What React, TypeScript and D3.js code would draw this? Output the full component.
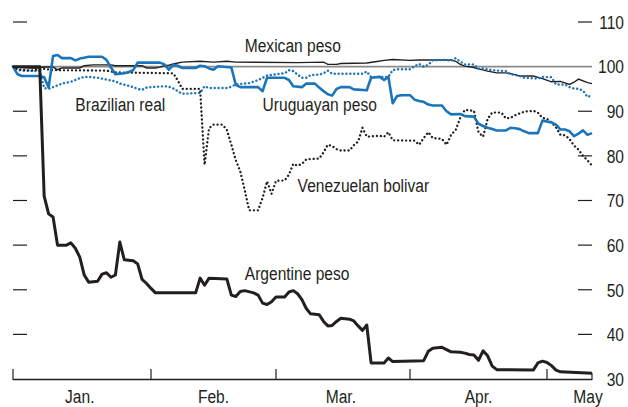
import React from "react";
import * as d3 from "d3";

const W = 628;
const H = 407;

const yTickValues = [110, 100, 90, 80, 70, 60, 50, 40, 30];
const yTickMarks = [110, 90, 80, 70, 60, 50, 40];
const monthStarts = ["01-01", "02-01", "03-01", "04-01", "05-01"];
const monthLabels = ["Jan.", "Feb.", "Mar.", "Apr.", "May"];
const monthMids = ["01-16", "02-15", "03-16", "04-16", "05-16"];
const xDomainDates = ["01-01", "02-01", "03-01", "04-01", "05-01", "05-11"];

type P = [string, number];

const argentinePeso: P[] = [
  ["01-01", 100], ["01-07", 100], ["01-08", 71], ["01-09", 67], ["01-10", 66.3], ["01-11", 60],
  ["01-13", 60], ["01-14", 60.5], ["01-15", 59.3], ["01-16", 57.3], ["01-17", 53.3], ["01-18", 51.7],
  ["01-20", 51.9], ["01-21", 53.5], ["01-22", 53.8], ["01-23", 52.8], ["01-24", 53.3], ["01-25", 60.7],
  ["01-26", 56.7], ["01-28", 56.5], ["01-29", 55.8], ["01-30", 52.3], ["01-31", 51.4], ["02-01", 50.3],
  ["02-02", 49.3], ["02-11", 49.3], ["02-12", 52.6], ["02-13", 51], ["02-14", 52.6], ["02-18", 52.4],
  ["02-19", 48.8], ["02-20", 48.5], ["02-21", 49.6], ["02-22", 49.8], ["02-24", 49.3], ["02-25", 48.8],
  ["02-26", 47], ["02-27", 46.7], ["02-28", 47.3], ["03-01", 48.4], ["03-03", 48.4], ["03-04", 49.5],
  ["03-05", 49.8], ["03-06", 49.1], ["03-07", 47.8], ["03-08", 45.8], ["03-09", 44.6], ["03-11", 44.4],
  ["03-12", 42.9], ["03-13", 41.9], ["03-14", 42], ["03-15", 42.9], ["03-16", 43.6], ["03-18", 43.4],
  ["03-19", 43], ["03-20", 41.9], ["03-21", 40.9], ["03-22", 42.1], ["03-23", 33.6], ["03-26", 33.6],
  ["03-27", 34.7], ["03-28", 33.9], ["04-04", 34.1], ["04-05", 36.2], ["04-06", 36.9], ["04-08", 37.1],
  ["04-09", 36.6], ["04-10", 36.1], ["04-12", 36], ["04-13", 35.8], ["04-14", 35.5], ["04-15", 35.4],
  ["04-16", 34.2], ["04-17", 36.3], ["04-18", 35.2], ["04-19", 32.9], ["04-20", 32.1], ["04-28", 32],
  ["04-29", 33.6], ["04-30", 34], ["05-01", 33.7], ["05-02", 33], ["05-03", 32], ["05-04", 31.6],
  ["05-11", 31.3],
];

const mexicanPeso: P[] = [
  ["01-01", 100], ["01-03", 99.8], ["01-06", 99.6], ["01-08", 99.9], ["01-10", 99.9], ["01-11", 99.3],
  ["01-12", 99.7], ["01-16", 99.7], ["01-17", 100.2], ["01-19", 100.4], ["01-23", 100.4], ["01-24", 100.2],
  ["01-30", 100.2], ["01-31", 99.7], ["02-02", 99.7], ["02-03", 99.9], ["02-04", 100.2], ["02-05", 100.3],
  ["02-06", 100.6], ["02-07", 100.8], ["02-08", 101], ["02-12", 101.2], ["02-15", 101], ["02-18", 101.2],
  ["02-20", 101], ["03-06", 100.9], ["03-12", 101], ["03-13", 100.5], ["03-15", 100.5], ["03-16", 100.7],
  ["03-22", 100.8], ["03-24", 101.1], ["03-26", 101.4], ["03-28", 101.6], ["04-01", 101.4], ["04-03", 101.5],
  ["04-10", 101.5], ["04-11", 101.2], ["04-12", 100.5], ["04-13", 100.1], ["04-15", 99.8], ["04-16", 99.5],
  ["04-18", 99], ["04-20", 98.6], ["04-22", 98.6], ["04-24", 98.2], ["04-25", 97.9], ["04-28", 97.9],
  ["04-30", 97.3], ["05-02", 96.6], ["05-04", 96.7], ["05-06", 96], ["05-07", 96.5], ["05-08", 97.2],
  ["05-10", 96.4], ["05-11", 96.2],
];

const brazilianReal: P[] = [
  ["01-01", 100], ["01-02", 99.3], ["01-03", 99.1], ["01-07", 99], ["01-08", 95.2], ["01-09", 95],
  ["01-10", 95.4], ["01-11", 95.8], ["01-12", 96.2], ["01-14", 96.6], ["01-15", 97], ["01-16", 97.4],
  ["01-17", 97.7], ["01-18", 97.7], ["01-20", 97.5], ["01-22", 97.1], ["01-24", 96.7], ["01-25", 96.2],
  ["01-27", 95.7], ["01-28", 95.4], ["01-29", 95], ["01-30", 94.8], ["01-31", 95.3], ["02-01", 95.4],
  ["02-04", 95.6], ["02-05", 95.5], ["02-06", 95.1], ["02-07", 94.5], ["02-08", 93.9], ["02-12", 94.1],
  ["02-13", 95.6], ["02-14", 95.2], ["02-18", 95.2], ["02-19", 95.5], ["02-20", 96], ["02-23", 96.3],
  ["02-25", 97], ["02-26", 97.5], ["02-27", 98], ["03-02", 98.4], ["03-03", 98.5], ["03-04", 99.2],
  ["03-05", 99], ["03-06", 98.2], ["03-07", 97.5], ["03-08", 97.5], ["03-09", 98.1], ["03-11", 98.2],
  ["03-12", 98.5], ["03-13", 99.1], ["03-14", 98.4], ["03-21", 98.4], ["03-22", 98.9], ["03-23", 97.7],
  ["03-27", 97.7], ["03-28", 99.2], ["03-29", 99.4], ["04-01", 99.4], ["04-02", 100.1], ["04-03", 100.6],
  ["04-04", 100], ["04-05", 100.4], ["04-06", 101.4], ["04-09", 101.5], ["04-10", 101.3], ["04-11", 101.9],
  ["04-12", 101.1], ["04-13", 100.5], ["04-15", 100.5], ["04-16", 99.5], ["04-17", 99.6], ["04-18", 99.4],
  ["04-19", 99.2], ["04-22", 99], ["04-23", 98.3], ["04-25", 97.9], ["04-26", 97.5], ["04-29", 97.3],
  ["04-30", 97.7], ["05-02", 97.6], ["05-03", 96], ["05-05", 96], ["05-06", 95.4], ["05-07", 95.1],
  ["05-08", 95], ["05-09", 94.6], ["05-10", 93.2], ["05-11", 93.6],
];

const uruguayanPeso: P[] = [
  ["01-01", 100], ["01-02", 98.3], ["01-03", 97.9], ["01-07", 97.9], ["01-08", 97.6], ["01-09", 95.3],
  ["01-10", 102.4], ["01-11", 102.6], ["01-12", 101.9], ["01-14", 101.9], ["01-15", 101.4], ["01-16", 101.8],
  ["01-17", 102], ["01-18", 102.2], ["01-21", 102.2], ["01-22", 101.5], ["01-23", 99.8], ["01-24", 98.3],
  ["01-25", 98.4], ["01-26", 98.5], ["01-27", 98.8], ["01-28", 99.2], ["01-29", 100.9], ["02-03", 100.9],
  ["02-04", 100.5], ["02-05", 99.3], ["02-06", 100.4], ["02-07", 100.2], ["02-08", 99.7], ["02-11", 99.7],
  ["02-12", 100.2], ["02-13", 100.1], ["02-14", 99.6], ["02-15", 99.3], ["02-16", 100.1], ["02-19", 99.8],
  ["02-20", 95.9], ["02-21", 95.4], ["02-25", 95.4], ["02-26", 94.5], ["02-27", 97.5], ["03-03", 97.5],
  ["03-04", 97], ["03-05", 95.6], ["03-07", 95.4], ["03-08", 96.2], ["03-10", 96.2], ["03-11", 95.3],
  ["03-12", 94.5], ["03-13", 93.8], ["03-14", 93.5], ["03-15", 95], ["03-16", 95.4], ["03-18", 95.4],
  ["03-19", 94.9], ["03-22", 94.7], ["03-23", 97.5], ["03-25", 97.7], ["03-26", 97], ["03-27", 97.7],
  ["03-28", 91.8], ["03-29", 93.4], ["03-30", 93.6], ["04-01", 93.6], ["04-02", 92.6], ["04-03", 92.3],
  ["04-04", 92.1], ["04-05", 91.5], ["04-06", 91.3], ["04-08", 91.3], ["04-09", 90], ["04-10", 89.3],
  ["04-12", 89.4], ["04-13", 88.9], ["04-15", 88.8], ["04-16", 87.2], ["04-17", 86.7], ["04-18", 86.3],
  ["04-19", 86], ["04-20", 85.7], ["04-22", 85.7], ["04-23", 86.3], ["04-24", 86.2], ["04-25", 86],
  ["04-26", 85.5], ["04-27", 85.1], ["04-29", 85.1], ["04-30", 87.9], ["05-02", 87.5], ["05-03", 87],
  ["05-04", 85.9], ["05-05", 85.9], ["05-06", 85.5], ["05-07", 84.4], ["05-08", 85], ["05-09", 85.7],
  ["05-10", 84.7], ["05-11", 85.1],
];

const venezuelanBolivar: P[] = [
  ["01-01", 100], ["01-02", 99.4], ["01-05", 99.1], ["01-08", 99.5], ["01-10", 99.2], ["01-22", 99.1],
  ["01-24", 98.7], ["02-06", 98.5], ["02-07", 96.9], ["02-08", 95], ["02-12", 95], ["02-13", 78],
  ["02-14", 86.2], ["02-15", 87], ["02-17", 87], ["02-18", 85.8], ["02-19", 82.5], ["02-20", 79],
  ["02-21", 76.5], ["02-22", 72.3], ["02-23", 67.8], ["02-25", 67.8], ["02-26", 70.6], ["02-27", 74.3],
  ["02-28", 71.5], ["03-01", 74.4], ["03-03", 74.5], ["03-04", 75.8], ["03-05", 78.2], ["03-06", 77.8],
  ["03-07", 78.2], ["03-08", 79.2], ["03-11", 79.4], ["03-12", 80.8], ["03-13", 82.5], ["03-14", 82.2],
  ["03-15", 81.5], ["03-16", 81.2], ["03-18", 81.2], ["03-19", 82.4], ["03-20", 83.2], ["03-21", 86.3],
  ["03-22", 84.3], ["03-25", 84.5], ["03-26", 84.3], ["03-27", 85.3], ["03-28", 83.5], ["04-02", 83.4],
  ["04-03", 82.5], ["04-04", 84], ["04-05", 85.3], ["04-06", 84], ["04-08", 83.8], ["04-09", 82.5],
  ["04-10", 84.7], ["04-11", 85.8], ["04-12", 88.5], ["04-13", 90.3], ["04-15", 90.1], ["04-16", 85.3],
  ["04-17", 84.3], ["04-18", 88.3], ["04-19", 89.7], ["04-21", 89.7], ["04-22", 88.4], ["04-23", 88.5],
  ["04-24", 89.1], ["04-25", 89.5], ["04-26", 89.9], ["04-28", 90.1], ["04-29", 89.7], ["04-30", 88.5],
  ["05-01", 88.3], ["05-02", 87.5], ["05-03", 86.4], ["05-04", 84.7], ["05-05", 84.6], ["05-06", 83.8],
  ["05-07", 82.3], ["05-08", 81.4], ["05-09", 80], ["05-10", 79], ["05-11", 77.8],
];

const seriesLabels = [
  { text: "Mexican peso", date: "02-22", value: 103.35 },
  { text: "Brazilian real", date: "01-15", value: 90 },
  { text: "Uruguayan peso", date: "02-26", value: 90 },
  { text: "Venezuelan bolivar", date: "03-06", value: 71.9 },
  { text: "Argentine peso", date: "02-22", value: 52.2 },
];

const parse = d3.timeParse("%Y-%m-%d");
const toDate = (s: string) => parse("2002-" + s) as Date;

const BLACK = "#231f20";
const BLUE = "#1b75bb";
const FONT = "'Liberation Sans', Arial, sans-serif";
const FS = 19;
const SX = 0.82;

function Label(props: { x: number; y: number; anchor?: string; children: React.ReactNode }) {
  return (
    <g transform={`translate(${props.x},${props.y}) scale(${SX},1)`}>
      <text x={0} y={0} textAnchor={props.anchor || "start"} fontSize={FS} fill={BLACK}>
        {props.children}
      </text>
    </g>
  );
}

export default function App() {
  const x = d3
    .scaleTime()
    .domain(xDomainDates.map(toDate))
    .range([13, 151, 276, 410, 547, 592]);
  const y = d3.scaleLinear().domain([30, 110]).range([379, 22]);
  const x0 = 13;
  const x1 = 592;

  const line = d3
    .line<P>()
    .x((d) => x(toDate(d[0])))
    .y((d) => y(d[1]));

  return (
    <svg
      width={W}
      height={H}
      style={{ position: "absolute", left: 0, top: 0, background: "#fff" }}
      fontFamily={FONT}
    >
      <line x1={x0} x2={x1} y1={y(100)} y2={y(100)} stroke="#8a8a8a" strokeWidth={1.6} />
      {yTickMarks.map((v) => (
        <g key={v}>
          <line x1={x0} x2={x0 + 14} y1={y(v)} y2={y(v)} stroke={BLACK} strokeWidth={1.2} />
          <line x1={x1 - 14} x2={x1} y1={y(v)} y2={y(v)} stroke={BLACK} strokeWidth={1.2} />
        </g>
      ))}
      {yTickValues.map((v) => (
        <Label key={v} x={624} y={y(v) + 6.8} anchor="end">
          {v}
        </Label>
      ))}
      <line x1={x0} x2={x1} y1={y(30) + 0.5} y2={y(30) + 0.5} stroke={BLACK} strokeWidth={1.5} />
      {monthStarts.map((m) => (
        <line
          key={m}
          x1={x(toDate(m))}
          x2={x(toDate(m))}
          y1={y(30) - 10}
          y2={y(30) + 1}
          stroke={BLACK}
          strokeWidth={1.2}
        />
      ))}
      <line x1={x1} x2={x1} y1={y(30) - 6} y2={y(30) + 1} stroke={BLACK} strokeWidth={1.2} />
      {monthLabels.map((m, i) => (
        <Label key={m} x={Math.min(x(toDate(monthMids[i])), x1 - 4)} y={403} anchor="middle">
          {m}
        </Label>
      ))}

      <path d={line(mexicanPeso) || ""} fill="none" stroke={BLACK} strokeWidth={1.4} />
      <path
        d={line(brazilianReal) || ""}
        fill="none"
        stroke={BLUE}
        strokeWidth={2.4}
        strokeDasharray="0.1 3.8"
        strokeLinecap="round"
      />
      <path
        d={line(venezuelanBolivar) || ""}
        fill="none"
        stroke={BLACK}
        strokeWidth={2.3}
        strokeDasharray="0.1 3.9"
        strokeLinecap="round"
      />
      <path d={line(uruguayanPeso) || ""} fill="none" stroke={BLUE} strokeWidth={2.6} strokeLinejoin="round" />
      <path d={line(argentinePeso) || ""} fill="none" stroke={BLACK} strokeWidth={3} strokeLinejoin="round" />

      {seriesLabels.map((l) => (
        <Label key={l.text} x={x(toDate(l.date))} y={y(l.value)}>
          {l.text}
        </Label>
      ))}
    </svg>
  );
}
